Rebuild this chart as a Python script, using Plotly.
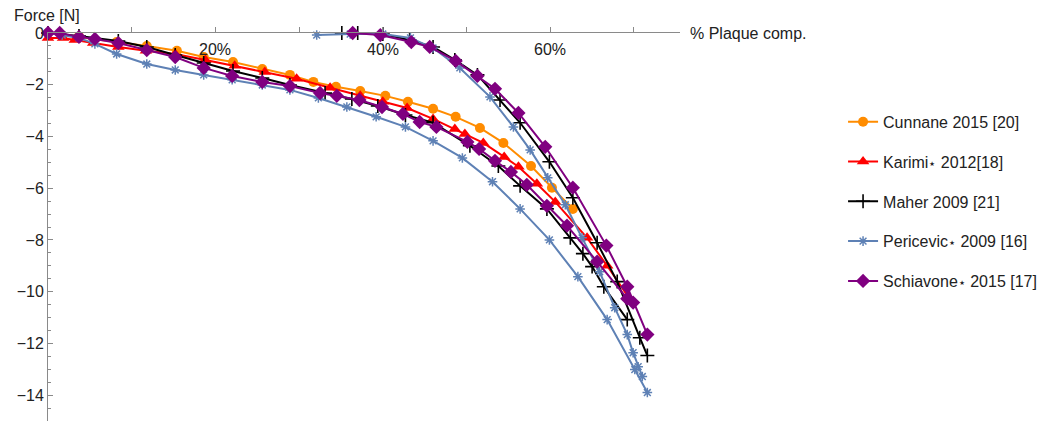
import plotly.graph_objects as go

# ---- data (percent plaque compression, force in N) ----
cun_x = [0, 3.7, 8.2, 11.8, 15.4, 18.6, 22.1, 25.6, 28.9, 31.7, 34.4, 37.3, 40.3, 43.0, 46.0, 48.7, 51.6, 54.4, 57.7, 60.2, 62.7]
cun_y = [0, -0.15, -0.35, -0.50, -0.69, -0.93, -1.12, -1.39, -1.62, -1.89, -2.08, -2.24, -2.43, -2.66, -2.93, -3.24, -3.67, -4.25, -5.14, -5.98, -6.80]

kar_x = [0, 1.8, 3.2, 5.4, 8.4, 11.7, 15.2, 18.8, 22.3, 25.9, 29.7, 33.7, 37.3, 40.0, 42.9, 46.0, 48.6, 49.8, 52.0, 54.5, 56.2, 58.4, 60.6, 64.4, 66.8, 69.3]
kar_y = [-0.19, -0.19, -0.27, -0.39, -0.54, -0.69, -0.81, -1.04, -1.27, -1.51, -1.77, -2.12, -2.43, -2.66, -2.90, -3.32, -3.71, -3.90, -4.25, -4.79, -5.17, -5.83, -6.53, -7.92, -9.00, -10.19]

mah1_x = [0, 3.7, 8.4, 11.8, 15.2, 18.6, 22.1, 25.6, 28.9, 33.1, 36.3, 39.4, 42.7, 46.0, 50.4, 53.8, 56.4, 59.6, 62.4, 63.9, 65.0, 66.4, 69.2]
mah1_y = [0, -0.12, -0.31, -0.54, -0.85, -1.16, -1.47, -1.74, -2.01, -2.32, -2.55, -2.82, -3.17, -3.47, -4.36, -5.14, -5.91, -6.80, -7.92, -8.53, -9.03, -9.81, -11.08]
mah2_x = [35.1, 37.0, 40.0, 43.2, 46.0, 48.6, 51.3, 54.0, 56.4, 59.9, 62.7, 65.6, 68.0, 70.7, 71.6]
mah2_y = [0, 0, -0.04, -0.27, -0.54, -1.04, -1.62, -2.59, -3.47, -4.98, -6.37, -8.11, -9.61, -11.78, -12.47]

per1_x = [0, 1.7, 3.7, 5.6, 8.2, 11.8, 15.2, 18.6, 22.0, 25.6, 28.9, 32.3, 35.7, 39.2, 42.7, 46.0, 49.5, 53.1, 56.4, 59.9, 63.3, 66.8, 70.1, 71.6]
per1_y = [0, -0.08, -0.19, -0.42, -0.81, -1.20, -1.43, -1.62, -1.81, -2.01, -2.20, -2.51, -2.86, -3.24, -3.63, -4.17, -4.83, -5.75, -6.80, -8.00, -9.42, -11.08, -13.01, -13.90]
per2_x = [32.1, 36.1, 40.0, 43.3, 46.0, 49.2, 52.8, 55.6, 57.6, 59.7, 61.8, 63.8, 65.9, 67.7, 69.2, 69.9, 70.5, 71.0]
per2_y = [-0.08, -0.04, -0.04, -0.19, -0.58, -1.35, -2.47, -3.63, -4.52, -5.60, -6.64, -7.92, -9.23, -10.62, -11.66, -12.36, -12.90, -13.28]

sch1_x = [0, 1.4, 3.7, 5.6, 8.4, 11.8, 15.2, 18.6, 22.0, 25.6, 28.9, 32.5, 34.5, 37.2, 39.9, 42.4, 44.4, 46.4, 50.1, 51.5, 53.4, 55.3, 57.2, 59.6, 62.0, 65.6, 69.2, 69.9]
sch1_y = [0, 0, -0.15, -0.23, -0.39, -0.66, -0.93, -1.35, -1.66, -1.89, -2.05, -2.32, -2.43, -2.59, -2.86, -3.13, -3.44, -3.63, -4.21, -4.48, -4.94, -5.37, -5.87, -6.68, -7.45, -8.84, -10.27, -10.42]
sch2_x = [36.4, 39.7, 43.4, 45.6, 48.7, 51.3, 53.4, 56.2, 59.4, 62.7, 66.7, 69.2, 71.6]
sch2_y = [0, -0.08, -0.35, -0.54, -1.08, -1.66, -2.16, -3.09, -4.40, -5.98, -8.22, -9.81, -11.66]

x_tickvals = [10, 20, 30, 40, 50, 60, 70]
x_labelvals = [20, 40, 60]
x_labeltext = ["20%", "40%", "60%"]
y_tickvals = [0, -2, -4, -6, -8, -10, -12, -14]

star = "<span style='font-size:13px'>⋆</span>"
series = [
    ("Cunnane 2015 [20]", "#FF8C00", dict(symbol="circle", size=10), [(cun_x, cun_y)]),
    ("Karimi" + star + " 2012[18]", "#FF0000", dict(symbol="triangle-up", size=11), [(kar_x, kar_y)]),
    ("Maher 2009 [21]", "#000000", dict(symbol="cross-thin-open", size=10, line=dict(width=1.6, color="#000000")), [(mah1_x, mah1_y), (mah2_x, mah2_y)]),
    ("Pericevic" + star + " 2009 [16]", "#5E81B5", dict(symbol="asterisk-open", size=8, line=dict(width=1.5, color="#5E81B5")), [(per1_x, per1_y), (per2_x, per2_y)]),
    ("Schiavone" + star + " 2015 [17]", "#800080", dict(symbol="diamond", size=11), [(sch1_x, sch1_y), (sch2_x, sch2_y)]),
]

fig = go.Figure()
for name, color, mk, curves in series:
    for i, (xs, ys) in enumerate(curves):
        fig.add_trace(go.Scatter(
            x=xs, y=ys, mode="lines+markers", name=name,
            legendgroup=name, showlegend=(i == 0),
            line=dict(color=color, width=2),
            marker=dict(color=color, **mk),
            cliponaxis=False,
        ))

PW, PH = 632, 388
annotations = [
    dict(text="Force [N]", xref="paper", yref="paper", x=-36/PW, y=1 + 28/PH,
         xanchor="left", yanchor="top", showarrow=False, font=dict(size=16, color="#222222")),
    dict(text="% Plaque comp.", xref="paper", yref="paper", x=1 + 8/PW, y=1,
         xanchor="left", yanchor="middle", showarrow=False, font=dict(size=16, color="#222222")),
]
for v, t in zip(x_labelvals, x_labeltext):
    annotations.append(dict(text=t, xref="x", yref="y", x=v, y=0, yshift=-16,
                            xanchor="center", yanchor="middle", showarrow=False,
                            font=dict(size=16, color="#222222")))

fig.update_layout(
    width=1058, height=421,
    margin=dict(l=40, r=386, t=25, b=8),
    paper_bgcolor="white", plot_bgcolor="white",
    font=dict(family="Liberation Sans, Arial, sans-serif", size=16, color="#222222"),
    showlegend=True,
    legend=dict(x=1.258, y=0.815, xanchor="left", yanchor="top",
                font=dict(size=16, color="#222222"), tracegroupgap=16,
                itemwidth=30, bgcolor="rgba(0,0,0,0)"),
    xaxis=dict(range=[0, 75.5], side="top", showline=True, linecolor="#8a8a8a", linewidth=1,
               ticks="outside", ticklen=5, tickcolor="#8a8a8a",
               tickvals=x_tickvals, showticklabels=False, automargin=False,
               showgrid=False, zeroline=False),
    yaxis=dict(range=[-15, 0], showline=True, linecolor="#8a8a8a", linewidth=1,
               ticks="inside", ticklen=5, tickcolor="#8a8a8a",
               tickvals=y_tickvals, showgrid=False, zeroline=False, automargin=False,
               minor=dict(dtick=0.5, ticks="inside", ticklen=3, tickcolor="#8a8a8a", showgrid=False),
               tickfont=dict(size=16, color="#222222")),
    annotations=annotations,
)

fig.write_html("out.html")
